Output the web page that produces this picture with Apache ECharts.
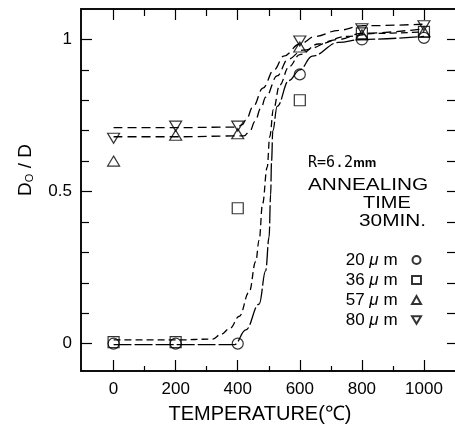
<!DOCTYPE html>
<html>
<head>
<meta charset="utf-8">
<script src="https://cdn.jsdelivr.net/npm/echarts@6.0.0/dist/echarts.min.js"></script>
<style>
  html, body { margin: 0; padding: 0; background: #fff; }
  #main { width: 455px; height: 429px; }
</style>
</head>
<body>
<div id="main"></div>
<script>
// measured points (D0/D) at each annealing temperature
const temps = [0, 200, 400, 600, 800, 1000];
const d20 = [0.0, 0.0, 0.0, 0.885, 1.0, 1.005];
const d36 = [0.005, 0.005, 0.445, 0.8, 1.02, 1.025];
const d57 = [0.6, 0.685, 0.69, 0.975, 1.015, 1.025];
const d80 = [0.675, 0.715, 0.715, 0.995, 1.035, 1.045];

// hand drawn fit curves as [temp, D0/D]
const fit20 = [[0, -0.003], [200, -0.003], [390, -0.003], [426, 0.045], [469, 0.13], [490, 0.24],
  [501, 0.35], [506, 0.49], [509, 0.6], [513, 0.7], [527, 0.78], [565, 0.865], [600, 0.9],
  [640, 0.945], [725, 0.99], [800, 1.0], [1000, 1.01]];
const fit36 = [[0, 0.012], [200, 0.012], [320, 0.015], [345, 0.03], [375, 0.05], [405, 0.09],
  [437, 0.17], [458, 0.27], [469, 0.34], [480, 0.46], [495, 0.58], [503, 0.68], [515, 0.77],
  [535, 0.85], [565, 0.91], [600, 0.95], [660, 0.985], [750, 1.01], [850, 1.02], [1000, 1.025]];
const fit57 = [[0, 0.68], [200, 0.68], [420, 0.683], [440, 0.7], [455, 0.73], [475, 0.775],
  [490, 0.81], [527, 0.88], [562, 0.935], [610, 0.965], [725, 1.0], [800, 1.02], [1000, 1.035]];
const fit80 = [[0, 0.71], [200, 0.71], [400, 0.712], [415, 0.72], [426, 0.735], [450, 0.78],
  [481, 0.84], [517, 0.9], [548, 0.945], [600, 0.985], [650, 1.01], [725, 1.03], [800, 1.045],
  [1000, 1.05]];

const seriesNames = ['20 μm', '36 μm', '57 μm', '80 μm'];

const xLabelTicks = [0, 200, 400, 600, 800, 1000];
const xMinorTicks = [100, 300, 500, 700, 900];
const yLabelTicks = [0, 0.5, 1];
const yMinorTicks = [0.1, 0.2, 0.3, 0.4, 0.6, 0.7, 0.8, 0.9];
const yRightTicks = [0, 0.1, 0.2, 0.3, 0.4, 0.5, 0.6, 0.7, 0.8, 0.9, 1.0];

const noteRadius = 'R=6.2';
const noteUnit = 'mm';
const noteLines = ['ANNEALING', 'TIME', '30MIN.'];

const font = 'Liberation Sans';
const black = '#000';

const chart = echarts.init(document.getElementById('main'));

function pairs(ys) {
  return temps.map((t, i) => [t, ys[i]]);
}

function xAxis(pos, ticks, len, extra) {
  return Object.assign({
    type: 'value', position: pos, min: -105, max: 1100,
    axisLine: { show: true, onZero: false, lineStyle: { color: black, width: 1.5 } },
    axisTick: { show: true, inside: true, length: len, customValues: ticks, lineStyle: { color: black, width: 1.2 } },
    axisLabel: { show: false },
    splitLine: { show: false }
  }, extra || {});
}

function yAxis(pos, ticks, len, extra) {
  return Object.assign({
    type: 'value', position: pos, min: -0.09, max: 1.1,
    axisLine: { show: pos === 'left', onZero: false, lineStyle: { color: black, width: 1.5 } },
    axisTick: { show: true, inside: true, length: len, customValues: ticks, lineStyle: { color: black, width: 1.2 } },
    axisLabel: { show: false },
    splitLine: { show: false }
  }, extra || {});
}

const emptyMark = { color: 'rgba(0,0,0,0)', borderColor: black, borderWidth: 1.2 };

function marks(name, ys, symbol, size, rotate) {
  return {
    name: name, type: 'scatter', data: pairs(ys), symbol: symbol, symbolSize: size,
    symbolRotate: rotate || 0, itemStyle: emptyMark, z: 5
  };
}

function fitLine(data, dash) {
  return {
    type: 'line', data: data, symbol: 'none', smooth: 0.4, smoothMonotone: 'x', silent: true,
    lineStyle: { color: black, width: 1.3, type: dash }, z: 3
  };
}

const option = {
  backgroundColor: '#fff',
  animation: false,
  grid: { left: 81, right: -2, top: 9, bottom: 54 },
  xAxis: [
    xAxis('bottom', xLabelTicks, 11, {
      axisLabel: {
        show: true, customValues: xLabelTicks, margin: 10, color: black, fontSize: 17, fontFamily: font,
        formatter: v => String(v)
      },
      name: 'TEMPERATURE(℃)', nameLocation: 'middle', nameGap: 33, nameMoveOverlap: false,
      nameTextStyle: { color: black, fontSize: 20, fontFamily: font, padding: [0, 16, 0, 0] }
    }),
    xAxis('bottom', xMinorTicks, 5),
    xAxis('top', xLabelTicks, 11),
    xAxis('top', xMinorTicks, 7)
  ],
  yAxis: [
    yAxis('left', yLabelTicks, 11, {
      axisLabel: {
        show: true, customValues: yLabelTicks, margin: 9, color: black, fontSize: 17, fontFamily: font,
        formatter: v => String(v)
      },
      name: 'D{s|O} / D', nameLocation: 'middle', nameGap: 46, nameMoveOverlap: false,
      nameTextStyle: {
        color: black, fontSize: 19, fontFamily: font, padding: [0, 0, 0, 40],
        rich: { s: { fontSize: 11, fontFamily: font, color: black, verticalAlign: 'bottom', padding: [7, 0, 0, 0] } }
      }
    }),
    yAxis('left', yMinorTicks, 8),
    yAxis('right', yRightTicks, 8)
  ],
  legend: {
    data: [
      { name: seriesNames[0] },
      { name: seriesNames[1] },
      { name: seriesNames[2] },
      { name: seriesNames[3], icon: 'path://M0,0 L12,0 L6,10 Z' }
    ],
    orient: 'vertical', align: 'right', right: 28, top: 246,
    itemWidth: 9, itemHeight: 8, itemGap: 2, selectedMode: false,
    formatter: name => name.split(' ')[0] + ' {mu|μ} m  ',
    textStyle: {
      color: black, fontSize: 17, fontFamily: font, lineHeight: 18,
      rich: { mu: { fontStyle: 'italic', fontSize: 17, fontFamily: font, color: black } }
    }
  },
  graphic: [
    {
      type: 'text', x: 308, y: 163,
      style: {
        text: '{a|' + noteRadius + '}{b|' + noteUnit + '}', verticalAlign: 'middle', fill: black,
        rich: {
          a: { fontSize: 15, fontFamily: 'DejaVu Sans Mono', fill: black },
          b: { fontSize: 13, fontWeight: 'bold', fontFamily: font, fill: black }
        }
      }
    },
    { type: 'text', x: 308, y: 186, scaleX: 1.3, style: { text: noteLines[0], fontSize: 16, fontFamily: font, fill: black, verticalAlign: 'middle' } },
    { type: 'text', x: 363, y: 204, scaleX: 1.25, style: { text: noteLines[1], fontSize: 16, fontFamily: font, fill: black, verticalAlign: 'middle' } },
    { type: 'text', x: 359, y: 222, scaleX: 1.3, style: { text: noteLines[2], fontSize: 16, fontFamily: font, fill: black, verticalAlign: 'middle' } }
  ],
  series: [
    fitLine(fit20, [18, 3]),
    fitLine(fit36, [7, 4]),
    fitLine(fit57, [9, 5]),
    fitLine(fit80, [9, 5]),
    marks(seriesNames[0], d20, 'circle', 11),
    marks(seriesNames[1], d36, 'rect', 11),
    marks(seriesNames[2], d57, 'triangle', [12, 10]),
    marks(seriesNames[3], d80, 'triangle', [12, 10], 180)
  ]
};

chart.setOption(option);
</script>
</body>
</html>
